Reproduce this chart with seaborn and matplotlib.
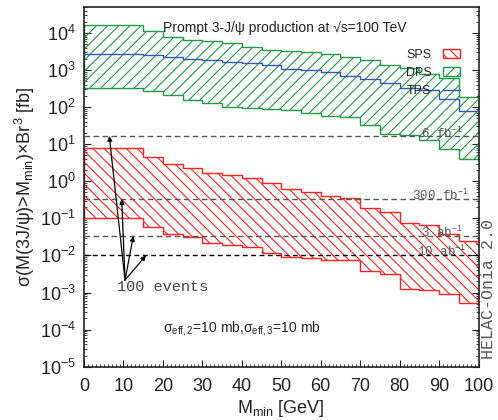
import numpy as np
import pandas as pd
import matplotlib
matplotlib.use("Agg")
import matplotlib.pyplot as plt
import seaborn as sns
from matplotlib.patches import Patch
from matplotlib.lines import Line2D
from matplotlib.ticker import MultipleLocator, LogLocator, NullFormatter

# ---------------- data ----------------
mmin_edges = [0, 5, 10, 15, 20, 25, 30, 35, 40, 45, 50, 55, 60, 65, 70, 75, 80, 85, 90, 95, 100]

sps_upper = [8.12, 8.12, 8.12, 4.53, 2.88, 2.21, 1.68, 1.46, 1.19, 0.914,
             0.618, 0.507, 0.396, 0.350, 0.194, 0.150, 0.0742, 0.0655, 0.0375, 0.0250]
sps_lower = [0.0993, 0.0993, 0.0993, 0.0578, 0.0370, 0.0311, 0.0221, 0.0195, 0.0171, 0.0115,
             0.0091, 0.00835, 0.00747, 0.00747, 0.00378, 0.00319, 0.00128, 0.00119, 0.00090, 0.00052]
dps_upper = [16000, 16000, 16000, 11240, 7750, 6590, 5930, 5340, 4165, 3546,
             3250, 3000, 2650, 2200, 1825, 1340, 1110, 766, 597, 184]
dps_lower = [327, 327, 327, 272, 208, 159, 129, 100.6, 96.8, 89.9,
             81.9, 68.3, 56.7, 54.3, 32.0, 18.6, 17.5, 12.8, 7.4, 4.0]
tps_central = [2767, 2767, 2767, 2600, 2240, 1980, 1825, 1643, 1515, 1340,
               1092, 982, 883, 676, 561, 446, 336, 284, 167, 77]

# 100-event lines (fb) and their labels
event_levels = [16.67, 0.3333, 0.03333, 0.01]
event_labels = ["6 fb$^{-1}$", "300 fb$^{-1}$", "3 ab$^{-1}$", "10 ab$^{-1}$"]

# ---------------- style ----------------
sns.set_theme(style="ticks")
plt.rcParams["font.family"] = ["Liberation Sans", "DejaVu Sans"]
plt.rcParams["mathtext.fontset"] = "custom"
plt.rcParams["mathtext.rm"] = "Liberation Sans"
plt.rcParams["mathtext.it"] = "Liberation Sans:italic"
plt.rcParams["mathtext.bf"] = "Liberation Sans:bold"
plt.rcParams["hatch.linewidth"] = 0.8

RED = "#ff2020"
GREEN = "#1e9a44"
BLUE = "#3555b5"
GRAY = "#555555"

fig = plt.figure(figsize=(4.98, 4.2), dpi=100)
ax = fig.add_axes([84 / 498, 1 - 366.7 / 420, (478.5 - 84) / 498, (366.7 - 7) / 420])

# bands
ax.stairs(dps_upper, mmin_edges, baseline=dps_lower, fill=True, facecolor="none",
          edgecolor=GREEN, hatch="///", linewidth=1.0, zorder=2)
ax.stairs(sps_upper, mmin_edges, baseline=sps_lower, fill=True, facecolor="none",
          edgecolor=RED, hatch="\\\\\\", linewidth=1.0, zorder=2)

# TPS line
tps_df = pd.DataFrame({"mmin": mmin_edges, "sigma": tps_central + [tps_central[-1]]})
sns.lineplot(data=tps_df, x="mmin", y="sigma", drawstyle="steps-post",
             color=BLUE, linewidth=1.0, ax=ax, zorder=3)

# 100-event lines
line_styles = [(GRAY, (4, 2.5)), (GRAY, (4, 2.5)), (GRAY, (4, 2.5)), ("black", (3.5, 2.5))]
for lvl, (col, dash) in zip(event_levels, line_styles):
    ax.axhline(lvl, color=col, linewidth=1.0, dashes=dash, zorder=4)

mono = ["Liberation Mono", "DejaVu Sans Mono"]
label_pos = [(85.4, 14.9), (83.1, 0.309), (85.4, 0.0311), (84.3, 0.00988)]
for (lx, ly), txt in zip(label_pos, event_labels):
    ax.text(lx, ly, txt, family=mono, fontsize=9, color=GRAY, ha="left", va="baseline", zorder=5)

# arrows from "100 events"
src = (10.4, 2.16e-3)
tips = [(6.41, event_levels[0]), (9.56, event_levels[1]), (12.5, event_levels[2]), (15.7, event_levels[3])]
for t in tips:
    ax.annotate("", xy=t, xytext=src,
                arrowprops=dict(arrowstyle="-|>", color="black", lw=0.9,
                                mutation_scale=7, shrinkA=0, shrinkB=0), zorder=6)
ax.text(8.4, 1.4e-3, "100 events", family=mono, fontsize=11, color="#444444",
        ha="left", va="center")

# other texts
ax.text(51, 1.33e4, "Prompt 3-J/\u03c8 production at \u221as=100 TeV", fontsize=10,
        color="#222222", ha="center", va="center")
ax.text(20.0, 1.1e-4, "\u03c3$_{\\rm eff,2}$=10 mb,\u03c3$_{\\rm eff,3}$=10 mb", fontsize=10,
        color="#222222", ha="left", va="center")
fig.text(488 / 498, 1 - 289 / 420, "HELAC-Onia 2.0", family=mono, fontsize=12,
         color="#555555", rotation=90, ha="center", va="center")

# legend
handles = [Patch(facecolor="none", edgecolor=RED, hatch="\\\\\\", linewidth=1.0),
           Patch(facecolor="none", edgecolor=GREEN, hatch="///", linewidth=1.0),
           Line2D([0], [0], color=BLUE, linewidth=1.0)]
ax.legend(handles, ["SPS", "DPS", "TPS"], loc="upper right",
          bbox_to_anchor=((460 - 84) / 394.5, (366.7 - 48.5) / 359.7),
          frameon=False, markerfirst=False, fontsize=9, borderpad=0, borderaxespad=0,
          handlelength=1.4, handleheight=0.8, handletextpad=0.9, labelspacing=0.5)

# axes
ax.set_yscale("log")
ax.set_xlim(0, 100)
ax.set_ylim(1e-5, 5e4)
ax.xaxis.set_major_locator(MultipleLocator(10))
ax.xaxis.set_minor_locator(MultipleLocator(1))
ax.yaxis.set_major_locator(LogLocator(base=10, numticks=20))
ax.yaxis.set_minor_locator(LogLocator(base=10, subs=np.arange(2, 10), numticks=100))
ax.yaxis.set_minor_formatter(NullFormatter())
ax.tick_params(axis="both", which="both", direction="in", top=False, right=True,
               colors="#222222", labelsize=13)
ax.tick_params(axis="both", which="major", length=5, width=0.8)
ax.tick_params(axis="both", which="minor", length=2.5, width=0.6)
ax.tick_params(axis="x", which="major", pad=8)
ax.tick_params(axis="y", which="major", pad=6)
for s in ax.spines.values():
    s.set_color("#222222")
    s.set_linewidth(1.2)

ax.set_xlabel("M$_{\\rm min}$ [GeV]", fontsize=13, color="#222222", labelpad=2)
ax.set_ylabel("\u03c3(M(3J/\u03c8)>M$_{\\rm min}$)\u00d7Br$^{3}$ [fb]", fontsize=13,
              color="#222222", labelpad=2)

fig.savefig("out.png", dpi=100)
